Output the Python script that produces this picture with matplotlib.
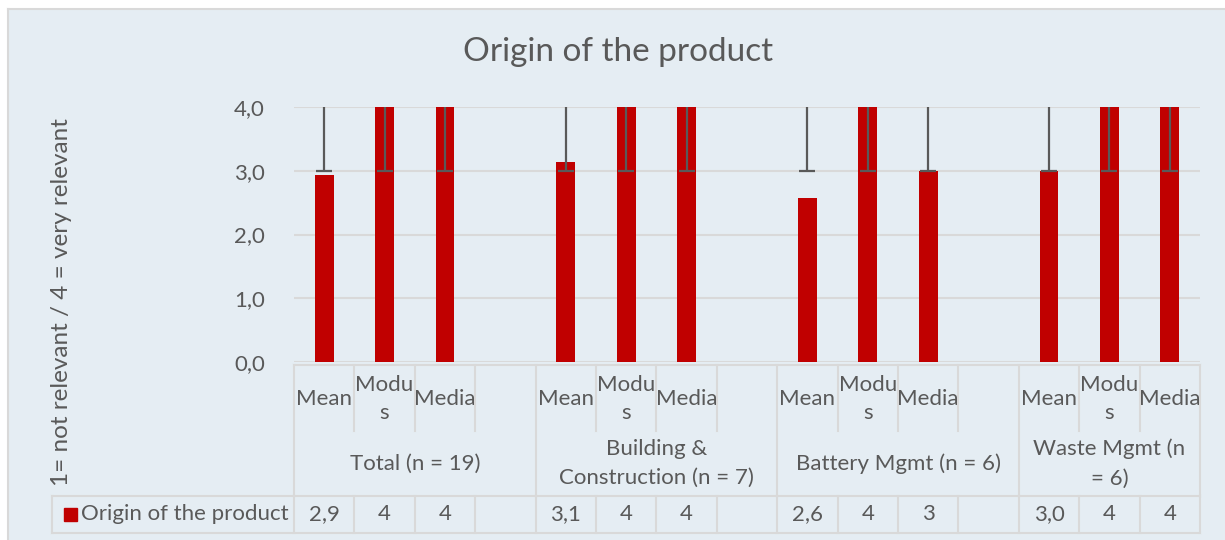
import numpy as np
import matplotlib
matplotlib.use("Agg")
import matplotlib.pyplot as plt
from matplotlib.patches import Rectangle

plt.rcParams['font.family'] = ['Lato', 'DejaVu Sans']

# datos del grafico
grupos = ["Total (n = 19)", "Building &\nConstruction (n = 7)", "Battery Mgmt (n = 6)", "Waste Mgmt (n\n= 6)"]
medidas = ["Mean", "Modu\ns", "Media"]
valores = [[2.94, 4, 4], [3.14, 4, 4], [2.58, 4, 3], [3.0, 4, 4]]
etiquetas = [["2,9", "4", "4"], ["3,1", "4", "4"], ["2,6", "4", "3"], ["3,0", "4", "4"]]
err_bajo = [[3, 3, 3], [3, 3, 3], [3, 3, 3], [3, 3, 3]]
err_alto = [[4, 4, 4], [4, 4, 4], [4, 4, 4], [4, 4, 4]]
serie = "Origin of the product"
titulo = "Origin of the product"
eje_y = "1= not relevant / 4 = very relevant"

ROJO = "#c00000"
GRIS = "#595959"
FONDO = "#e5edf3"
LINEA = "#d9d9d9"
FS = 16

W, H = 1225, 540
fig = plt.figure(figsize=(W / 100, H / 100), dpi=100, facecolor="white")

# marco exterior
fondo = fig.add_axes([0, 0, 1, 1])
fondo.set_xlim(0, W)
fondo.set_ylim(H, 0)
fondo.axis("off")
fondo.add_patch(Rectangle((8, 9), W, H, fc=FONDO, ec="none"))
fondo.plot([8, W], [9, 9], color=LINEA, lw=1.5)
fondo.plot([8, 8], [9, H], color=LINEA, lw=1.5)

# posiciones de las ranuras (4 por grupo, el ultimo sin hueco)
x_pos = []
slot = 0
for g in range(len(grupos)):
    xs = []
    for m in range(len(medidas)):
        xs.append(slot)
        slot += 1
    x_pos.append(xs)
    slot += 1
n_slots = slot - 1

x0, x1 = 294, 1200
y_top, y_bot = 107, 362
ax = fig.add_axes([x0 / W, 1 - y_bot / H, (x1 - x0) / W, (y_bot - y_top) / H])
ax.set_facecolor(FONDO)
ax.set_xlim(-0.5, n_slots - 0.5)
ax.set_ylim(0, 4)
ax.set_yticks(np.arange(0, 5, 1))
ax.set_yticklabels([f"{v:.1f}".replace(".", ",") for v in range(5)], fontsize=FS, color=GRIS)
ax.tick_params(axis="y", length=0, pad=21)
ax.set_xticks([])
ax.grid(axis="y", color=LINEA, lw=1.5)
ax.set_axisbelow(True)
for s in ax.spines.values():
    s.set_visible(False)

for g in range(len(grupos)):
    ax.bar(x_pos[g], valores[g], width=0.31, color=ROJO, zorder=2)
    ax.vlines(x_pos[g], err_bajo[g], err_alto[g], color=GRIS, lw=1.6, zorder=3)
    ax.plot(x_pos[g], err_bajo[g], ls="none", marker="_", ms=12, mew=1.6, color=GRIS, zorder=3)

fondo.text(618, 52, titulo, ha="center", va="center", fontsize=24, color=GRIS)
fondo.text(62, 302, eje_y, rotation=90, ha="center", va="center", fontsize=17.5, color=GRIS)

# tabla de datos
sw = (x1 - x0) / n_slots
t0, r1, r2, r3 = 365, 431, 496, 533
lk = dict(color=LINEA, lw=1.5)
fondo.plot([x0, x1], [t0, t0], **lk)
fondo.plot([52, x1], [r2, r2], **lk)
fondo.plot([52, x1], [r3, r3], **lk)
fondo.plot([52, 52], [r2, r3], **lk)
for i in range(n_slots + 1):
    xx = x0 + i * sw
    es_borde = (i % 4 == 0) or i == n_slots
    fondo.plot([xx, xx], [t0, r1 if not es_borde else r2], **lk)
    fondo.plot([xx, xx], [r2, r3], **lk)

for g in range(len(grupos)):
    for m in range(len(medidas)):
        cx = x0 + (x_pos[g][m] + 0.5) * sw
        fondo.text(cx, (t0 + r1) / 2 + 1, medidas[m], ha="center", va="center",
                   fontsize=FS, color=GRIS, linespacing=1.55)
        fondo.text(cx, (r2 + r3) / 2, etiquetas[g][m], ha="center", va="center",
                   fontsize=FS, color=GRIS)
    gx = x0 + (x_pos[g][0] + x_pos[g][-1] + 1) / 2 * sw
    if g < len(grupos) - 1:
        gx = x0 + (x_pos[g][0] + 2) * sw
    fondo.text(gx, (r1 + r2) / 2, grupos[g], ha="center", va="center",
               fontsize=FS, color=GRIS, linespacing=1.6)

fondo.add_patch(Rectangle((64, 508), 13, 13, color=ROJO))
fondo.text(81, (r2 + r3) / 2, serie, ha="left", va="center", fontsize=FS, color=GRIS)

fig.savefig("out.png", dpi=100, facecolor="white")
